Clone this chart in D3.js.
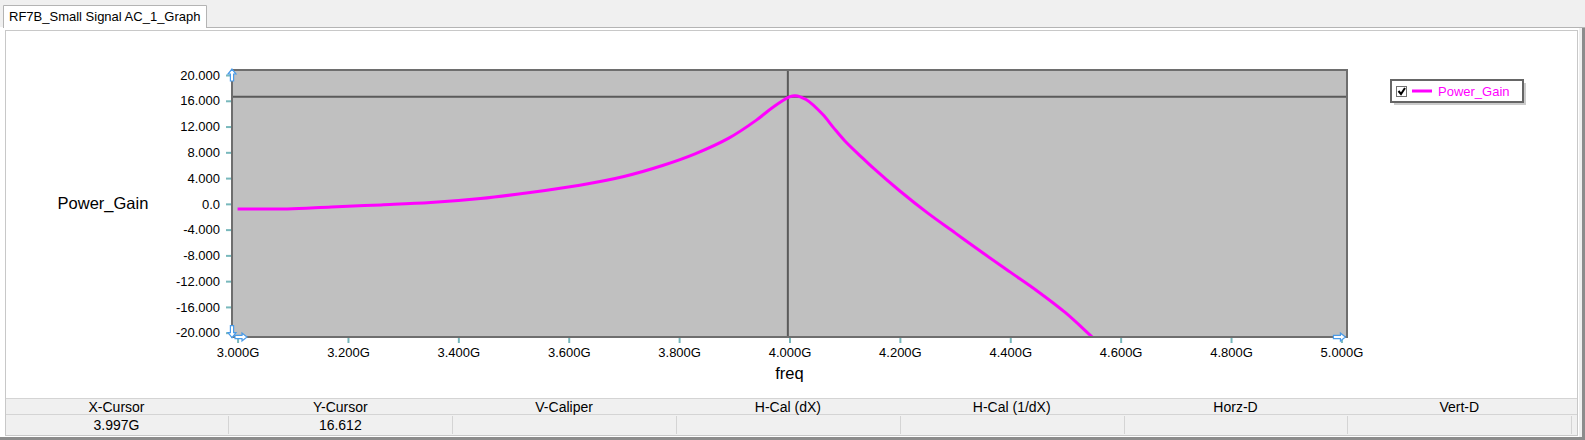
<!DOCTYPE html>
<html>
<head>
<meta charset="utf-8">
<script src="https://cdn.jsdelivr.net/npm/d3@7/dist/d3.min.js"></script>
<style>
  html, body { margin: 0; padding: 0; background: #ffffff; }
  svg { display: block; font-family: "Liberation Sans", Arial, sans-serif; }
</style>
</head>
<body>
<svg id="chart" width="1585" height="440"></svg>
<script>
// ---------------- data ----------------
const freqGHz = [3.00, 3.09, 3.17, 3.26, 3.35, 3.44, 3.53, 3.62, 3.70, 3.77, 3.83, 3.89, 3.94, 3.97,
                 4.00, 4.01, 4.03, 4.06, 4.08, 4.10, 4.13, 4.15, 4.20, 4.25, 4.30, 4.35, 4.40, 4.45, 4.50, 4.55, 4.57];
const powerGain = [-0.80, -0.78, -0.47, -0.16, 0.20, 0.83, 1.76, 2.90, 4.25, 5.95, 7.80, 10.2, 13.0, 15.0,
                   16.6, 16.8, 16.2, 13.9, 11.8, 9.8, 7.3, 5.7, 2.0, -1.4, -4.5, -7.6, -10.6, -13.6, -16.9, -20.8, -22.3];
const yTickValues = [20, 16, 12, 8, 4, 0, -4, -8, -12, -16, -20];
const yTickLabels = ["20.000", "16.000", "12.000", "8.000", "4.000", "0.0", "-4.000", "-8.000", "-12.000", "-16.000", "-20.000"];
const xTickValues = [3.0, 3.2, 3.4, 3.6, 3.8, 4.0, 4.2, 4.4, 4.6, 4.8, 5.0];
const xTickLabels = ["3.000G", "3.200G", "3.400G", "3.600G", "3.800G", "4.000G", "4.200G", "4.400G", "4.600G", "4.800G", "5.000G"];
const cursorX = 3.997;
const cursorY = 16.612;
const seriesName = "Power_Gain";
const tabTitle = "RF7B_Small Signal AC_1_Graph";
const statusHeaders = ["X-Cursor", "Y-Cursor", "V-Caliper", "H-Cal (dX)", "H-Cal (1/dX)", "Horz-D", "Vert-D"];
const statusValues = ["3.997G", "16.612", "", "", "", "", ""];

// ---------------- layout ----------------
const svg = d3.select("#chart");
const plot = { left: 232, right: 1347, top: 70, bottom: 337 };

// window chrome
svg.append("rect").attr("x", 0).attr("y", 0).attr("width", 1585).attr("height", 440).attr("fill", "#ffffff");
svg.append("rect").attr("x", 0).attr("y", 0).attr("width", 1585).attr("height", 27).attr("fill", "#f0f0f0");
svg.append("line").attr("x1", 206).attr("x2", 1585).attr("y1", 27.5).attr("y2", 27.5).attr("stroke", "#b4b4b4");
// tab
svg.append("path").attr("d", "M3.5,28 V5.5 H206.5 V28").attr("fill", "#ffffff").attr("stroke", "#b4b4b4");
svg.append("text").attr("x", 9).attr("y", 21).attr("font-size", 13).attr("fill", "#000").text(tabTitle);
// panel
svg.append("rect").attr("x", 5.5).attr("y", 30.5).attr("width", 1572).attr("height", 405)
   .attr("fill", "#ffffff").attr("stroke", "#c8c8c8");
svg.append("rect").attr("x", 1579).attr("y", 28).attr("width", 6).attr("height", 412).attr("fill", "#f0f0f0");
svg.append("rect").attr("x", 1582).attr("y", 28).attr("width", 3).attr("height", 412).attr("fill", "#8c8c8c");
svg.append("rect").attr("x", 0).attr("y", 437).attr("width", 1585).attr("height", 3).attr("fill", "#8c8c8c");

// ---------------- scales ----------------
const x = d3.scaleLinear().domain([2.9899, 5.0101]).range([plot.left, plot.right]);
const y = d3.scaleLinear().domain([-20.67, 20.78]).range([plot.bottom, plot.top]);

// plot background
svg.append("rect").attr("x", plot.left).attr("y", plot.top)
   .attr("width", plot.right - plot.left).attr("height", plot.bottom - plot.top)
   .attr("fill", "#c0c0c0");

// axes
const yAxis = d3.axisLeft(y).tickValues(yTickValues)
  .tickFormat((d, i) => yTickLabels[i]).tickSize(6).tickPadding(6);
const gy = svg.append("g").attr("transform", `translate(${plot.left},0)`).call(yAxis);
const xAxis = d3.axisBottom(x).tickValues(xTickValues)
  .tickFormat((d, i) => xTickLabels[i]).tickSize(6).tickPadding(5);
const gx = svg.append("g").attr("transform", `translate(0,${plot.bottom})`).call(xAxis);
[gx, gy].forEach(g => {
  g.select(".domain").remove();
  g.selectAll(".tick line").attr("stroke", "#78b8bc").attr("stroke-width", 2);
  g.selectAll(".tick text").attr("font-size", 13).attr("fill", "#000")
    .attr("font-family", "'Liberation Sans', Arial, sans-serif");
});

// clip
svg.append("clipPath").attr("id", "plotclip").append("rect")
  .attr("x", plot.left).attr("y", plot.top)
  .attr("width", plot.right - plot.left).attr("height", plot.bottom - plot.top);

// crosshair
svg.append("line").attr("x1", x(cursorX)).attr("x2", x(cursorX)).attr("y1", plot.top).attr("y2", plot.bottom)
   .attr("stroke", "#5a5a5a").attr("stroke-width", 2);
svg.append("line").attr("x1", plot.left).attr("x2", plot.right).attr("y1", y(cursorY)).attr("y2", y(cursorY))
   .attr("stroke", "#5a5a5a").attr("stroke-width", 2);

// series line
const pts = freqGHz.map((f, i) => [f, powerGain[i]]);
svg.append("path").datum(pts)
  .attr("clip-path", "url(#plotclip)")
  .attr("fill", "none").attr("stroke", "#ff00ff").attr("stroke-width", 3)
  .attr("d", d3.line().x(d => x(d[0])).y(d => y(d[1])).curve(d3.curveCatmullRom.alpha(0.5)));

// plot border
svg.append("rect").attr("x", plot.left).attr("y", plot.top)
   .attr("width", plot.right - plot.left).attr("height", plot.bottom - plot.top)
   .attr("fill", "none").attr("stroke", "#6e6e6e").attr("stroke-width", 2);

// cursor arrow markers
function arrow(cx, cy, dir) {
  const rot = { up: 0, down: 180, right: 90, left: -90 }[dir];
  svg.append("path")
    .attr("d", "M0,-6 L4,-1 L1.6,-1 L1.6,6 L-1.6,6 L-1.6,-1 L-4,-1 Z")
    .attr("transform", `translate(${cx},${cy}) rotate(${rot})`)
    .attr("fill", "#ffffff").attr("stroke", "#4a9be8").attr("stroke-width", 1.2);
}
arrow(plot.left, y(20), "up");
arrow(plot.left, y(-20) - 1, "down");
arrow(plot.left + 9, plot.bottom, "right");
arrow(x(5.0) - 2, plot.bottom, "right");

// axis titles
svg.append("text").attr("x", 103).attr("y", 203).attr("text-anchor", "middle").attr("dominant-baseline", "central")
   .attr("font-size", 16.5).attr("fill", "#000").text(seriesName);
svg.append("text").attr("x", x(4.0)).attr("y", 373).attr("text-anchor", "middle").attr("dominant-baseline", "central")
   .attr("font-size", 16.5).attr("fill", "#000").text("freq");

// legend
const lg = svg.append("g").attr("transform", "translate(1391,80)");
lg.append("rect").attr("x", 3).attr("y", 3).attr("width", 132).attr("height", 22).attr("fill", "#a8a8a8").attr("opacity", 0.6);
lg.append("rect").attr("x", 0).attr("y", 0).attr("width", 132).attr("height", 22)
  .attr("fill", "#ffffff").attr("stroke", "#666666").attr("stroke-width", 2);
lg.append("rect").attr("x", 5.5).attr("y", 6.5).attr("width", 10).attr("height", 10)
  .attr("fill", "#ffffff").attr("stroke", "#707070");
lg.append("path").attr("d", "M7.5,11 L10,14 L14,8").attr("fill", "none").attr("stroke", "#000").attr("stroke-width", 2);
lg.append("line").attr("x1", 21).attr("x2", 41).attr("y1", 11).attr("y2", 11)
  .attr("stroke", "#ff00ff").attr("stroke-width", 3);
lg.append("text").attr("x", 47).attr("y", 11).attr("dominant-baseline", "central")
  .attr("font-size", 13).attr("fill", "#ff00ff").text(seriesName);

// status table
const colX = d3.scaleLinear().domain([0, 7]).range([4.6, 1571.2]);
svg.append("rect").attr("x", 6).attr("y", 398).attr("width", 1571).attr("height", 37).attr("fill", "#f0f0f0");
svg.append("line").attr("x1", 6).attr("x2", 1577).attr("y1", 398.5).attr("y2", 398.5).attr("stroke", "#d4d4d4");
svg.append("line").attr("x1", 6).attr("x2", 1577).attr("y1", 414.5).attr("y2", 414.5).attr("stroke", "#d4d4d4");
svg.append("line").attr("x1", 6).attr("x2", 1577).attr("y1", 435.5).attr("y2", 435.5).attr("stroke", "#c8c8c8");
statusHeaders.forEach((h, i) => {
  const cx = (colX(i) + colX(i + 1)) / 2;
  svg.append("text").attr("x", cx).attr("y", 406.5).attr("text-anchor", "middle").attr("dominant-baseline", "central")
    .attr("font-size", 14).attr("fill", "#000").text(h);
  svg.append("text").attr("x", cx).attr("y", 425).attr("text-anchor", "middle").attr("dominant-baseline", "central")
    .attr("font-size", 14).attr("fill", "#000").text(statusValues[i]);
  svg.append("line").attr("x1", Math.round(colX(i + 1)) + 0.5).attr("x2", Math.round(colX(i + 1)) + 0.5)
    .attr("y1", 416).attr("y2", 434).attr("stroke", "#d4d4d4");
});
</script>
</body>
</html>
